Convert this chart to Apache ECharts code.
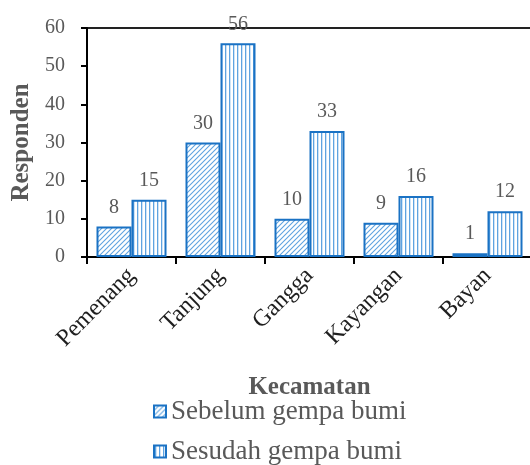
<!DOCTYPE html>
<html>
<head>
<meta charset="utf-8">
<script src="https://cdn.jsdelivr.net/npm/echarts@6/dist/echarts.min.js"></script>
<style>
  html, body { margin: 0; padding: 0; background: #fff; }
  #chart { width: 530px; height: 465px; }
</style>
</head>
<body>
<div id="chart"></div>
<script>
// Respondents per district, before and after the earthquake
const districts = ['Pemenang', 'Tanjung', 'Gangga', 'Kayangan', 'Bayan'];
const beforeQuake = [8, 30, 10, 9, 1];
const afterQuake = [15, 56, 33, 16, 12];
const seriesNames = ['Sebelum gempa bumi', 'Sesudah gempa bumi'];
const yTicks = { min: 0, max: 60, step: 10 };

const BLUE = '#1a72c4';
const HATCH = '#5fa3e0';
const SERIF = '"Liberation Serif", "DejaVu Serif", serif';

// Diagonal hatch fill
function diagonalPattern() {
  const c = document.createElement('canvas');
  c.width = 5; c.height = 5;
  const g = c.getContext('2d');
  g.fillStyle = '#fff';
  g.fillRect(0, 0, 5, 5);
  g.strokeStyle = HATCH;
  g.lineWidth = 1.1;
  g.beginPath();
  g.moveTo(0, 5); g.lineTo(5, 0);
  g.moveTo(-1, 1); g.lineTo(1, -1);
  g.moveTo(4, 6); g.lineTo(6, 4);
  g.stroke();
  return c;
}

// Vertical line fill
function verticalPattern() {
  const c = document.createElement('canvas');
  c.width = 4; c.height = 4;
  const g = c.getContext('2d');
  g.fillStyle = '#fff';
  g.fillRect(0, 0, 4, 4);
  g.fillStyle = HATCH;
  g.fillRect(1, 0, 1.3, 4);
  return c;
}

const chart = echarts.init(document.getElementById('chart'), null, { renderer: 'canvas' });

const labelStyle = {
  show: true,
  position: 'top',
  distance: 9,
  color: '#595959',
  fontSize: 20,
  fontFamily: SERIF
};

const legendText = { color: '#595959', fontSize: 27, fontFamily: SERIF };

// One legend block per series, stacked vertically
function legendFor(name, top) {
  return {
    left: 148,
    top: top,
    itemWidth: 12,
    itemHeight: 12,
    icon: 'rect',
    data: [name],
    textStyle: legendText
  };
}

chart.setOption({
  animation: false,
  grid: {
    left: 87, right: -2, top: 28, bottom: 208,
    containLabel: false,
    outerBoundsMode: 'none',
    show: true, borderColor: '#222', borderWidth: 2, backgroundColor: 'transparent'
  },
  legend: [
    legendFor(seriesNames[0], 393),
    legendFor(seriesNames[1], 433)
  ],
  xAxis: {
    type: 'category',
    data: districts,
    name: 'Kecamatan',
    nameLocation: 'middle',
    nameGap: 118,
    nameTextStyle: { color: '#595959', fontSize: 25, fontWeight: 'bold', fontFamily: SERIF },
    axisLine: { lineStyle: { color: '#000', width: 2 } },
    axisTick: { show: true, length: 7, lineStyle: { color: '#000', width: 2 } },
    axisLabel: { rotate: 45, margin: 15, color: '#1f1f1f', fontSize: 24, fontFamily: SERIF }
  },
  yAxis: {
    type: 'value',
    min: yTicks.min,
    max: yTicks.max,
    interval: yTicks.step,
    name: 'Responden',
    nameLocation: 'middle',
    nameGap: 52,
    nameTextStyle: { color: '#595959', fontSize: 25, fontWeight: 'bold', fontFamily: SERIF },
    axisLine: { show: true, lineStyle: { color: '#000', width: 2 } },
    axisTick: { show: true, length: 6, lineStyle: { color: '#000', width: 2 } },
    axisLabel: { margin: 22, color: '#595959', fontSize: 20, fontFamily: SERIF },
    splitLine: { show: false }
  },
  series: [
    {
      name: seriesNames[0],
      type: 'bar',
      data: beforeQuake,
      barWidth: 35,
      barGap: '0%',
      itemStyle: { color: { image: diagonalPattern(), repeat: 'repeat' }, borderColor: BLUE, borderWidth: 2 },
      label: labelStyle
    },
    {
      name: seriesNames[1],
      type: 'bar',
      data: afterQuake,
      barWidth: 35,
      barGap: '0%',
      itemStyle: { color: { image: verticalPattern(), repeat: 'repeat' }, borderColor: BLUE, borderWidth: 2 },
      label: labelStyle
    }
  ]
});
</script>
</body>
</html>
